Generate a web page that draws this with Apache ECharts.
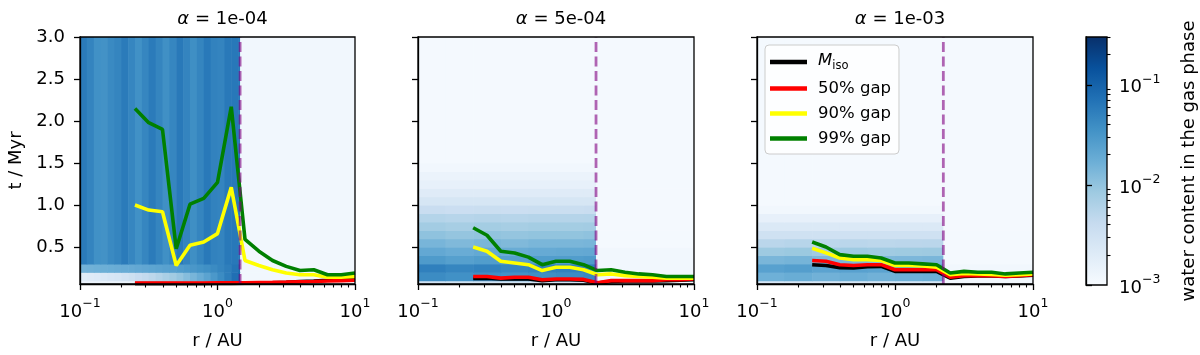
<!DOCTYPE html>
<html><head><meta charset="utf-8">
<script src="https://cdn.jsdelivr.net/npm/echarts@6/dist/echarts.min.js"></script>
<style>html,body{margin:0;padding:0;background:#fff}#c{width:1200px;height:355px}</style>
</head><body><div id="c"></div>
<script>
const FONT = 'DejaVu Sans';
const panelAlphas = ['1e-04', '5e-04', '1e-03'];
const seriesNames = ['M_iso', '50% gap', '90% gap', '99% gap'];
const seriesColors = ['#000000', '#ff0000', '#ffff00', '#008000'];
const xMajorTicks = [0.1, 1, 10];
const xMinorTicks = [0.2,0.3,0.4,0.5,0.6,0.7,0.8,0.9,2,3,4,5,6,7,8,9];
const yTicks = [0.5, 1.0, 1.5, 2.0, 2.5, 3.0];
const cbMajorTicks = [0.001, 0.01, 0.1];
const cbMinorTicks = [0.002,0.003,0.004,0.005,0.006,0.007,0.008,0.009,0.02,0.03,0.04,0.05,0.06,0.07,0.08,0.09,0.2,0.3];
const cbRange = [0.001, 0.3];
const tRange = [0.06, 3.0];
const rRange = [0.1, 10];

// radii of the planet tracks (AU)
const rPoints = [0.251,0.316,0.398,0.501,0.631,0.794,1.0,1.259,1.585,2.0,2.512,3.162,3.981,5.012,6.310,7.943,10.0];
const snowLines = [1.46, 1.95, 2.24];

// panel 1 (alpha = 1e-4), t / Myr
const miso1  = [0.065,0.065,0.065,0.065,0.065,0.065,0.066,0.068,0.07,0.072,0.075,0.08,0.088,0.095,0.105,0.118,0.13];
const gap50_1 = [0.072,0.072,0.072,0.072,0.072,0.072,0.073,0.074,0.075,0.078,0.08,0.083,0.087,0.09,0.095,0.1,0.105];
const gap90_1 = [1.0,0.94,0.92,0.28,0.52,0.56,0.66,1.21,0.34,0.28,0.23,0.19,0.17,0.17,0.14,0.14,0.15];
const gap99_1 = [2.15,1.98,1.90,0.48,1.01,1.08,1.27,2.17,0.59,0.45,0.34,0.27,0.22,0.23,0.17,0.17,0.19];
// panel 2 (alpha = 5e-4)
const miso2  = [0.125,0.13,0.12,0.12,0.12,0.10,0.11,0.11,0.105,0.07,0.09,0.095,0.095,0.095,0.10,0.105,0.11];
const gap50_2 = [0.15,0.15,0.13,0.14,0.14,0.11,0.12,0.12,0.115,0.075,0.10,0.10,0.10,0.10,0.11,0.11,0.12];
const gap90_2 = [0.50,0.45,0.33,0.31,0.29,0.22,0.26,0.26,0.23,0.17,0.18,0.16,0.15,0.14,0.13,0.13,0.13];
const gap99_2 = [0.73,0.64,0.45,0.43,0.38,0.29,0.33,0.33,0.29,0.22,0.23,0.20,0.18,0.17,0.15,0.15,0.15];
// panel 3 (alpha = 1e-3)
const miso3  = [0.29,0.28,0.255,0.25,0.265,0.27,0.21,0.21,0.21,0.21,0.13,0.15,0.155,0.155,0.15,0.155,0.165];
const gap50_3 = [0.34,0.33,0.29,0.28,0.29,0.29,0.23,0.23,0.23,0.23,0.14,0.16,0.16,0.16,0.15,0.16,0.17];
const gap90_3 = [0.485,0.43,0.37,0.35,0.35,0.34,0.28,0.28,0.275,0.26,0.17,0.185,0.18,0.175,0.165,0.17,0.18];
const gap99_3 = [0.56,0.50,0.41,0.39,0.39,0.37,0.31,0.31,0.30,0.29,0.19,0.21,0.20,0.20,0.18,0.19,0.20];

// water content maps: cell edges in r (AU) and t (Myr); rows bottom -> top
const rEdges1 = [0.1,0.112,0.126,0.141,0.158,0.178,0.2,0.224,0.251,0.282,0.316,0.355,0.398,0.447,0.501,0.562,0.631,0.708,0.794,0.891,1.0,1.122,1.259,1.413,1.46,10];
const tEdges1 = [0.06,0.1,0.2,0.3,3.0];
const water1 = [
  [0.0014,0.0014,0.0014,0.0014,0.0014,0.0014,0.0014,0.0014,0.0014,0.0014,0.0014,0.0014,0.0014,0.0014,0.0014,0.0014,0.0014,0.0014,0.0015,0.0016,0.0017,0.0018,0.0019,0.0020,0.0011],
  [0.0019,0.0020,0.0021,0.0023,0.0025,0.0027,0.0030,0.0034,0.0039,0.0044,0.0050,0.0058,0.0068,0.0080,0.0096,0.0118,0.0145,0.018,0.023,0.030,0.040,0.055,0.075,0.10,0.0012],
  [0.0155,0.016,0.0165,0.017,0.0175,0.018,0.0185,0.019,0.020,0.021,0.022,0.023,0.024,0.025,0.027,0.029,0.031,0.034,0.037,0.041,0.047,0.055,0.068,0.085,0.0012],
  [0.058,0.048,0.036,0.035,0.042,0.047,0.058,0.046,0.036,0.046,0.058,0.047,0.037,0.046,0.060,0.048,0.038,0.047,0.060,0.050,0.048,0.060,0.062,0.064,0.0012]
];
const rEdges2 = [0.1,0.158,0.251,0.398,0.631,1.0,1.585,1.95,10];
const tEdges2 = [0.06,0.1,0.2,0.3,0.4,0.5,0.6,0.7,0.8,0.9,1.0,1.1,1.2,1.3,1.4,1.5,3.0];
const water2 = [
  [0.0031,0.0031,0.0031,0.0031,0.0031,0.0033,0.0036,0.0012],
  [0.040,0.036,0.038,0.035,0.038,0.040,0.044,0.0012],
  [0.052,0.046,0.050,0.046,0.049,0.050,0.053,0.0012],
  [0.028,0.025,0.027,0.025,0.027,0.027,0.028,0.0012],
  [0.020,0.018,0.0195,0.018,0.019,0.0195,0.020,0.0012],
  [0.0145,0.013,0.014,0.013,0.014,0.014,0.0145,0.0011],
  [0.0105,0.0096,0.010,0.0096,0.010,0.010,0.0105,0.0011],
  [0.0078,0.0072,0.0076,0.0072,0.0076,0.0076,0.0078,0.0011],
  [0.0057,0.0054,0.0056,0.0054,0.0056,0.0056,0.0057,0.0011],
  [0.0038,0.0036,0.0037,0.0036,0.0037,0.0037,0.0038,0.0011],
  [0.0026,0.0026,0.0026,0.0026,0.0026,0.0026,0.0026,0.0011],
  [0.0020,0.0020,0.0020,0.0020,0.0020,0.0020,0.0020,0.0011],
  [0.0016,0.0016,0.0016,0.0016,0.0016,0.0016,0.0016,0.0011],
  [0.0014,0.0014,0.0014,0.0014,0.0014,0.0014,0.0014,0.0011],
  [0.0012,0.0012,0.0012,0.0012,0.0012,0.0012,0.0012,0.0011],
  [0.0011,0.0011,0.0011,0.0011,0.0011,0.0011,0.0011,0.0011]
];
const rEdges3 = [0.1,0.158,0.251,0.398,0.631,1.0,1.585,2.24,10];
const tEdges3 = [0.06,0.1,0.2,0.3,0.4,0.5,0.6,0.7,0.8,0.9,1.0,3.0];
const water3 = [
  [0.0025,0.0025,0.0025,0.0025,0.0025,0.0025,0.0025,0.0012],
  [0.0165,0.0178,0.016,0.0172,0.016,0.0165,0.017,0.0012],
  [0.0240,0.0258,0.0228,0.0240,0.0228,0.0235,0.0240,0.0012],
  [0.0140,0.0148,0.0132,0.0140,0.0132,0.0137,0.0140,0.0011],
  [0.0085,0.0088,0.0080,0.0085,0.0080,0.0083,0.0085,0.0011],
  [0.0052,0.0054,0.0050,0.0052,0.0050,0.0051,0.0052,0.0011],
  [0.0032,0.0032,0.0032,0.0032,0.0032,0.0032,0.0032,0.0011],
  [0.0022,0.0022,0.0022,0.0022,0.0022,0.0022,0.0022,0.0011],
  [0.0016,0.0016,0.0016,0.0016,0.0016,0.0016,0.0016,0.0011],
  [0.0012,0.0012,0.0012,0.0012,0.0012,0.0012,0.0012,0.0011],
  [0.0011,0.0011,0.0011,0.0011,0.0011,0.0011,0.0011,0.0011]
];

const panelLines = [
  [miso1, gap50_1, gap90_1, gap99_1],
  [miso2, gap50_2, gap90_2, gap99_2],
  [miso3, gap50_3, gap90_3, gap99_3]
];
const panelMaps = [[rEdges1, tEdges1, water1], [rEdges2, tEdges2, water2], [rEdges3, tEdges3, water3]];

// matplotlib "Blues" colormap, log-normalised
const bluesStops = ['#f7fbff','#deebf7','#c6dbef','#9ecae1','#6baed6','#4292c6','#2171b5','#08519c','#08306b'];
function hex2rgb(h){ return [parseInt(h.substr(1,2),16), parseInt(h.substr(3,2),16), parseInt(h.substr(5,2),16)]; }
const bluesRGB = bluesStops.map(hex2rgb);
function blues(v){
  let n = (Math.log10(v) - Math.log10(cbRange[0])) / (Math.log10(cbRange[1]) - Math.log10(cbRange[0]));
  n = Math.max(0, Math.min(1, n));
  const f = n * (bluesRGB.length - 1);
  const i = Math.min(bluesRGB.length - 2, Math.floor(f));
  const u = f - i;
  const a = bluesRGB[i], b = bluesRGB[i + 1];
  return 'rgb(' + [0,1,2].map(k => Math.round(a[k] + (b[k] - a[k]) * u)).join(',') + ')';
}

const grids = [
  {left: 80, top: 37, width: 275, height: 248},
  {left: 418, top: 37, width: 276, height: 248},
  {left: 757, top: 37, width: 276, height: 248},
  {left: 1086, top: 37, width: 21, height: 248}
].map(g => Object.assign(g, {show: true, borderColor: '#000', borderWidth: 1.3, backgroundColor: 'transparent', z: 5}));

const txt = {fontFamily: FONT, fontSize: 18, color: '#000'};
const powRich = {
  b: {fontFamily: FONT, fontSize: 18, color: '#000', lineHeight: 24, verticalAlign: 'bottom'},
  s: {fontFamily: FONT, fontSize: 12.5, color: '#000', verticalAlign: 'top'}
};
function powLabel(v){
  const e = Math.round(Math.log10(v));
  return '{b|10}{s|' + (e < 0 ? '\u2212' : '') + Math.abs(e) + '}';
}

const xAxes = [], yAxes = [], series = [];
for (let p = 0; p < 3; p++) {
  xAxes.push({
    type: 'log', logBase: 10, gridIndex: p, min: rRange[0], max: rRange[1], position: 'bottom', z: 6,
    axisLine: {show: true, lineStyle: {color: '#000', width: 1.3}},
    axisTick: {show: true, customValues: xMajorTicks, length: 6, lineStyle: {color: '#000', width: 1.3}},
    axisLabel: {show: true, customValues: xMajorTicks, formatter: powLabel, rich: powRich, margin: 13},
    splitLine: {show: false},
    name: 'r / AU', nameLocation: 'middle', nameGap: 48, nameTextStyle: txt
  });
  xAxes.push({
    type: 'log', logBase: 10, gridIndex: p, min: rRange[0], max: rRange[1], position: 'bottom', z: 6,
    axisLine: {show: false},
    axisTick: {show: true, customValues: xMinorTicks, length: 3.5, lineStyle: {color: '#000', width: 1.1}},
    axisLabel: {show: false}, splitLine: {show: false}
  });
  yAxes.push({
    type: 'value', gridIndex: p, min: tRange[0], max: tRange[1], z: 6,
    axisLine: {show: true, lineStyle: {color: '#000', width: 1.3}},
    axisTick: {show: true, customValues: yTicks, length: 6, lineStyle: {color: '#000', width: 1.3}},
    axisLabel: {show: p === 0, customValues: yTicks, formatter: v => v.toFixed(1), margin: 15, fontFamily: FONT, fontSize: 18, color: '#000'},
    splitLine: {show: false},
    name: p === 0 ? 't / Myr' : '', nameLocation: 'middle', nameGap: 55, nameTextStyle: txt
  });
}
// colorbar axes
xAxes.push({type: 'value', gridIndex: 3, min: 0, max: 1, show: false});
yAxes.push({
  type: 'log', logBase: 10, gridIndex: 3, min: cbRange[0], max: cbRange[1], position: 'right', z: 6,
  axisLine: {show: true, lineStyle: {color: '#000', width: 1.3}},
  axisTick: {show: true, customValues: cbMajorTicks, length: 6, lineStyle: {color: '#000', width: 1.3}},
  axisLabel: {show: true, customValues: cbMajorTicks, formatter: powLabel, rich: powRich, margin: 12},
  splitLine: {show: false},
  name: 'water content in the gas phase', nameLocation: 'middle', nameGap: 73, nameRotate: 90, nameTextStyle: txt
});
yAxes.push({
  type: 'log', logBase: 10, gridIndex: 3, min: cbRange[0], max: cbRange[1], position: 'right', z: 6,
  axisLine: {show: false},
  axisTick: {show: true, customValues: cbMinorTicks, length: 3.5, lineStyle: {color: '#000', width: 1.1}},
  axisLabel: {show: false}, splitLine: {show: false}
});

function heatItem(params, api){
  const p0 = api.coord([api.value(0), api.value(3)]);
  const p1 = api.coord([api.value(1), api.value(2)]);
  const c = blues(api.value(4));
  return {type: 'rect', shape: {x: p0[0], y: p0[1], width: p1[0] - p0[0] + 0.6, height: p1[1] - p0[1] + 0.6},
          style: {fill: c}};
}

for (let p = 0; p < 3; p++) {
  const [rE, tE, W] = panelMaps[p];
  const cells = [];
  for (let j = 0; j < tE.length - 1; j++)
    for (let i = 0; i < rE.length - 1; i++)
      cells.push([rE[i], rE[i + 1], tE[j], tE[j + 1], W[j][i]]);
  series.push({
    type: 'custom', xAxisIndex: 2 * p, yAxisIndex: p, renderItem: heatItem, data: cells, clip: true,
    encode: {x: [0, 1], y: [2, 3]}, z: 1, silent: true
  });
  panelLines[p].forEach((arr, k) => {
    series.push({
      type: 'line', name: seriesNames[k], xAxisIndex: 2 * p, yAxisIndex: p,
      data: rPoints.map((r, i) => [r, arr[i]]), showSymbol: false, symbol: 'none',
      lineStyle: {color: seriesColors[k], width: 3.6}, itemStyle: {color: seriesColors[k]},
      z: 3 + k * 0.01, clip: true, silent: true
    });
  });
  series.push({
    type: 'line', name: 'snow line', xAxisIndex: 2 * p, yAxisIndex: p,
    data: [[snowLines[p], tRange[0]], [snowLines[p], tRange[1]]], symbol: 'none',
    lineStyle: {color: 'rgba(128,0,128,0.6)', width: 2.8, type: [10, 4.5]}, z: 4, silent: true
  });
}
// colorbar
series.push({
  type: 'custom', xAxisIndex: 6, yAxisIndex: 3, data: [[0, 1, cbRange[0], cbRange[1]]],
  encode: {x: [0, 1], y: [2, 3]}, z: 1, silent: true,
  renderItem: (params, api) => {
    const p0 = api.coord([api.value(0), api.value(3)]);
    const p1 = api.coord([api.value(1), api.value(2)]);
    return {type: 'rect', shape: {x: p0[0], y: p0[1], width: p1[0] - p0[0], height: p1[1] - p0[1]},
      style: {fill: new echarts.graphic.LinearGradient(0, 1, 0, 0,
        bluesStops.map((c, i) => ({offset: i / (bluesStops.length - 1), color: c})))}};
  }
});

const centers = [217.5, 556, 895];
const option = {
  animation: false,
  backgroundColor: '#fff',
  grid: grids,
  xAxis: xAxes,
  yAxis: yAxes,
  title: panelAlphas.map((a, i) => ({
    text: '{a|\u03b1} = ' + a, left: centers[i], top: 5, textAlign: 'center',
    textStyle: {fontFamily: FONT, fontSize: 18, fontWeight: 'normal', color: '#000',
      rich: {a: {fontFamily: FONT, fontSize: 18, fontStyle: 'italic', color: '#000'}}}
  })),
  legend: {
    show: true, data: seriesNames, left: 765, top: 45, orient: 'vertical', icon: 'rect',
    itemWidth: 37, itemHeight: 4.5, itemGap: 8, padding: [7, 8, 7, 5],
    backgroundColor: 'rgba(255,255,255,0.8)', borderColor: '#cccccc', borderWidth: 1, borderRadius: 4,
    selectedMode: false, z: 10,
    formatter: n => n === 'M_iso' ? '{i|M}{s|iso}' : n,
    textStyle: {fontFamily: FONT, fontSize: 16.5, color: '#000', padding: [0, 0, 0, 6],
      rich: {
        i: {fontFamily: FONT, fontSize: 16.5, fontStyle: 'italic', color: '#000', lineHeight: 20, verticalAlign: 'top'},
        s: {fontFamily: FONT, fontSize: 11.5, color: '#000', verticalAlign: 'bottom'}
      }}
  },
  series: series
};
const chart = echarts.init(document.getElementById('c'), null, {renderer: 'canvas'});
chart.setOption(option);
</script></body></html>
